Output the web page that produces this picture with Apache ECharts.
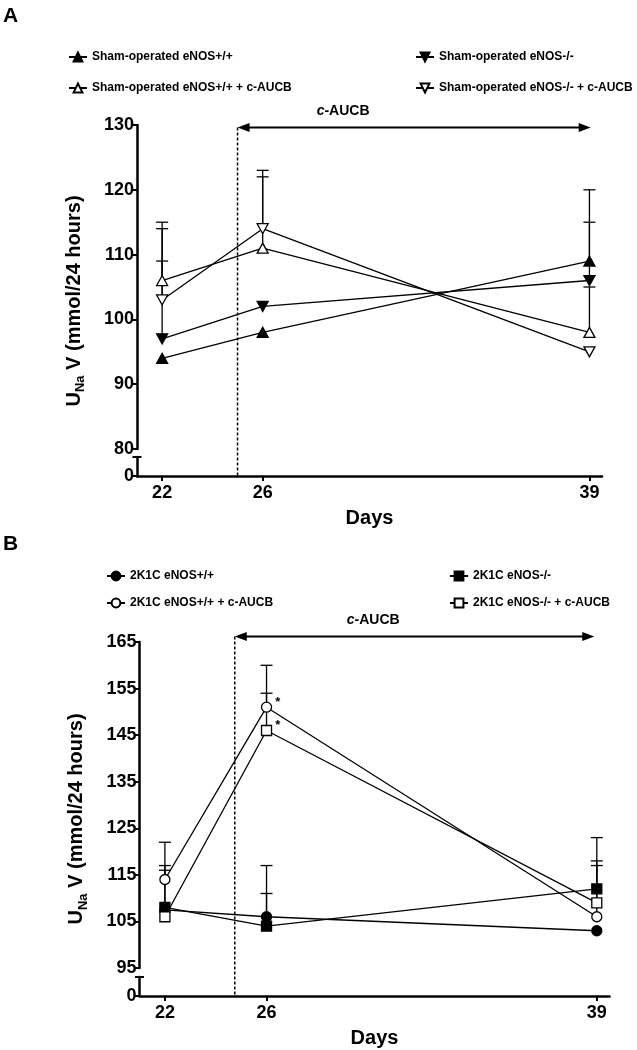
<!DOCTYPE html>
<html>
<head>
<meta charset="UTF-8">
<title>UNaV – c-AUCB</title>
<script src="https://cdn.jsdelivr.net/npm/echarts@6.0.0/dist/echarts.min.js"></script>
<style>
  html, body { margin: 0; padding: 0; background: #fff; }
  #main { width: 637px; height: 1050px; }
</style>
</head>
<body>
<div id="main"></div>
<script>
  var days = [22, 26, 39];
  var dayTicks = [22, 26, 39];
  var breakTicks = [0];

  // panel A - sham-operated
  var shamWT = [94, 98, 109];
  var shamKO = [97, 102, 106];
  var shamWTAucb = [106, 111, 98];
  var shamKOAucb = [103, 114, 95];
  var shamWTErr = [null, null, 11];
  var shamKOErr = [12, null, 9];
  var shamWTAucbErr = [9, 11, 7];
  var shamKOAucbErr = [11, 9, null];
  var ticksA = [80, 90, 100, 110, 120, 130];

  // panel B - 2K1C
  var clipWT = [107.5, 106, 103];
  var clipKO = [108, 104, 112];
  var clipWTAucb = [114, 151, 106];
  var clipKOAucb = [106, 146, 109];
  var clipWTErr = [null, 11, null];
  var clipKOErr = [9, 7, 5];
  var clipWTAucbErr = [8, 9, 17];
  var clipKOAucbErr = [10, 8, 9];
  var sigWTAucb = ['', '*', ''];
  var sigKOAucb = ['', '*', ''];
  var ticksB = [95, 105, 115, 125, 135, 145, 155, 165];

  // c-AUCB treatment period (days), arrow level and label day
  var aucbA = [25, 39.05], arrowYA = 129.6, labelDayA = 29.2;
  var aucbB = [24.75, 38.9], arrowYB = 166.2, labelDayB = 30.2;

  var FONT = 'Liberation Sans, Arial, sans-serif';
  var UP = 'path://M5,0L10,9L0,9Z';
  var DOWN = 'path://M0,0L10,0L5,9Z';

  var chart = echarts.init(document.getElementById('main'));

  function lineSeries(name, vals, symbol, filled, idx, sig) {
    return {
      name: name, type: 'line', xAxisIndex: idx, yAxisIndex: idx,
      data: days.map(function (d, i) {
        var item = { value: [d, vals[i]] };
        if (sig && sig[i]) item.label = { show: true, formatter: sig[i] };
        return item;
      }),
      symbol: symbol,
      symbolSize: symbol === 'circle' || symbol === 'rect' ? 10 : [11, 10],
      itemStyle: { color: filled ? '#000' : '#fff', borderColor: '#000', borderWidth: 1.3 },
      lineStyle: { color: '#000', width: 1.3 },
      label: { show: false, position: 'right', distance: 3, offset: [0, -5],
               fontSize: 13, fontWeight: 'bold', color: '#000' },
      z: 3
    };
  }

  function errSeries(vals, errs, idx) {
    var d = [];
    days.forEach(function (day, i) {
      if (errs[i] != null) d.push([day, vals[i], vals[i] + errs[i]]);
    });
    return {
      type: 'custom', xAxisIndex: idx, yAxisIndex: idx, data: d, z: 1, silent: true,
      encode: { x: 0, y: [1, 2] },
      renderItem: function (params, api) {
        var lo = api.coord([api.value(0), api.value(1)]);
        var hi = api.coord([api.value(0), api.value(2)]);
        var st = { stroke: '#000', lineWidth: 1.3 };
        return { type: 'group', children: [
          { type: 'line', shape: { x1: lo[0], y1: lo[1], x2: hi[0], y2: hi[1] }, style: st },
          { type: 'line', shape: { x1: hi[0] - 6, y1: hi[1], x2: hi[0] + 6, y2: hi[1] }, style: st }
        ]};
      }
    };
  }

  var yTitle = '{u|U}{s|Na}{u| V (mmol/24 hours)}';
  var axisLineSt = { color: '#000', width: 2.5 };
  var labelSt = { fontSize: 18, fontWeight: 'bold', color: '#000', fontFamily: FONT };

  function upperY(grid, min, max, ticks) {
    return {
      gridIndex: grid, type: 'value', min: min, max: max,
      axisLine: { show: true, onZero: false, lineStyle: axisLineSt },
      axisTick: { show: true, length: 5, lineStyle: { width: 2, color: '#000' }, customValues: ticks },
      axisLabel: Object.assign({ customValues: ticks, margin: 3 }, labelSt),
      splitLine: { show: false },
      name: yTitle, nameLocation: 'middle', nameGap: 50, nameRotate: 90,
      nameTextStyle: {
        color: '#000', padding: [0, 28, 0, 0],
        rich: {
          u: { fontSize: 20, fontWeight: 'bold', fontFamily: FONT, lineHeight: 26, color: '#000' },
          s: { fontSize: 13, fontWeight: 'bold', fontFamily: FONT, lineHeight: 13, verticalAlign: 'bottom', color: '#000' }
        }
      }
    };
  }
  function lowerY(grid) {
    return {
      gridIndex: grid, type: 'value', min: 0, max: 1,
      axisLine: { show: true, onZero: false, symbol: ['none', 'rect'], symbolSize: [9, 2], lineStyle: axisLineSt },
      axisTick: { show: true, length: 5, lineStyle: { width: 2, color: '#000' }, customValues: breakTicks },
      axisLabel: Object.assign({ customValues: breakTicks, margin: 3 }, labelSt),
      splitLine: { show: false }
    };
  }
  function hiddenX(grid) {
    return { gridIndex: grid, type: 'value', min: 21, max: 39.5, show: false };
  }
  function daysX(grid) {
    return {
      gridIndex: grid, type: 'value', min: 21, max: 39.5,
      axisLine: { show: true, lineStyle: axisLineSt },
      axisTick: { show: true, length: 5, lineStyle: { width: 2, color: '#000' }, customValues: dayTicks },
      axisLabel: Object.assign({ customValues: dayTicks, margin: 8 }, labelSt),
      splitLine: { show: false },
      name: 'Days', nameLocation: 'middle', nameGap: 32,
      nameTextStyle: { fontSize: 20, fontWeight: 'bold', color: '#000', fontFamily: FONT }
    };
  }
  function legend(names, left, top, gap) {
    return {
      data: names, orient: 'vertical', left: left, top: top, itemGap: gap,
      itemWidth: 18, itemHeight: 11, selectedMode: false,
      textStyle: { fontSize: 12, fontWeight: 'bold', color: '#000', fontFamily: FONT }
    };
  }

  chart.setOption({
    animation: false,
    textStyle: { fontFamily: FONT },
    title: [
      { text: 'A', left: 3, top: 6, padding: 0, textStyle: { fontSize: 21, fontWeight: 'bold', color: '#000' } },
      { text: 'B', left: 3, top: 534, padding: 0, textStyle: { fontSize: 21, fontWeight: 'bold', color: '#000' } }
    ],
    legend: [
      legend(['Sham-operated eNOS+/+', 'Sham-operated eNOS+/+ + c-AUCB'], 63, 46, 19),
      legend(['Sham-operated eNOS-/-', 'Sham-operated eNOS-/- + c-AUCB'], 410, 46, 19),
      legend(['2K1C eNOS+/+', '2K1C eNOS+/+ + c-AUCB'], 101, 565, 15),
      legend(['2K1C eNOS-/-', '2K1C eNOS-/- + c-AUCB'], 444, 565, 15)
    ],
    grid: [
      { left: 137, right: 35, top: 125, height: 324 },
      { left: 137, right: 35, top: 457, height: 19 },
      { left: 139.5, right: 27.5, top: 642, height: 326 },
      { left: 139.5, right: 27.5, top: 977, height: 19 }
    ],
    xAxis: [hiddenX(0), daysX(1), hiddenX(2), daysX(3)],
    yAxis: [upperY(0, 80, 130, ticksA), lowerY(1), upperY(2, 95, 165, ticksB), lowerY(3)],
    series: [
      errSeries(shamWT, shamWTErr, 0),
      errSeries(shamKO, shamKOErr, 0),
      errSeries(shamWTAucb, shamWTAucbErr, 0),
      errSeries(shamKOAucb, shamKOAucbErr, 0),
      lineSeries('Sham-operated eNOS+/+', shamWT, UP, true, 0),
      lineSeries('Sham-operated eNOS-/-', shamKO, DOWN, true, 0),
      lineSeries('Sham-operated eNOS+/+ + c-AUCB', shamWTAucb, UP, false, 0),
      lineSeries('Sham-operated eNOS-/- + c-AUCB', shamKOAucb, DOWN, false, 0),

      errSeries(clipWT, clipWTErr, 2),
      errSeries(clipKO, clipKOErr, 2),
      errSeries(clipWTAucb, clipWTAucbErr, 2),
      errSeries(clipKOAucb, clipKOAucbErr, 2),
      lineSeries('2K1C eNOS+/+', clipWT, 'circle', true, 2),
      lineSeries('2K1C eNOS-/-', clipKO, 'rect', true, 2),
      lineSeries('2K1C eNOS+/+ + c-AUCB', clipWTAucb, 'circle', false, 2, sigWTAucb),
      lineSeries('2K1C eNOS-/- + c-AUCB', clipKOAucb, 'rect', false, 2, sigKOAucb)
    ]
  });

  // dashed start line + double arrow for the c-AUCB period, placed through the axes
  function period(upper, lower, span, yLevel, labelDay) {
    var p0 = chart.convertToPixel({ gridIndex: upper }, [span[0], yLevel]);
    var p1 = chart.convertToPixel({ gridIndex: upper }, [span[1], yLevel]);
    var pl = chart.convertToPixel({ gridIndex: upper }, [labelDay, yLevel]);
    var base = chart.convertToPixel({ gridIndex: lower }, [span[0], 0]);
    var y = p0[1], head = 12, half = 4.5;
    return [
      { type: 'line', shape: { x1: p0[0], y1: y, x2: base[0], y2: base[1] },
        style: { stroke: '#000', lineWidth: 1.5, lineDash: [3, 2] }, z: 10 },
      { type: 'line', shape: { x1: p0[0] + 4, y1: y, x2: p1[0] - 4, y2: y },
        style: { stroke: '#000', lineWidth: 2 }, z: 10 },
      { type: 'polygon', shape: { points: [[p0[0], y], [p0[0] + head, y - half], [p0[0] + head, y + half]] },
        style: { fill: '#000' }, z: 10 },
      { type: 'polygon', shape: { points: [[p1[0], y], [p1[0] - head, y - half], [p1[0] - head, y + half]] },
        style: { fill: '#000' }, z: 10 },
      { type: 'text', x: pl[0], y: y - 16, z: 10,
        style: { text: '{i|c}-AUCB', fill: '#000', font: 'bold 14px ' + FONT,
                 textAlign: 'center', textVerticalAlign: 'middle',
                 rich: { i: { fontStyle: 'italic', fontWeight: 'bold', fontSize: 14, fontFamily: FONT } } } }
    ];
  }

  chart.setOption({
    graphic: period(0, 1, aucbA, arrowYA, labelDayA).concat(period(2, 3, aucbB, arrowYB, labelDayB))
  });
</script>
</body>
</html>
